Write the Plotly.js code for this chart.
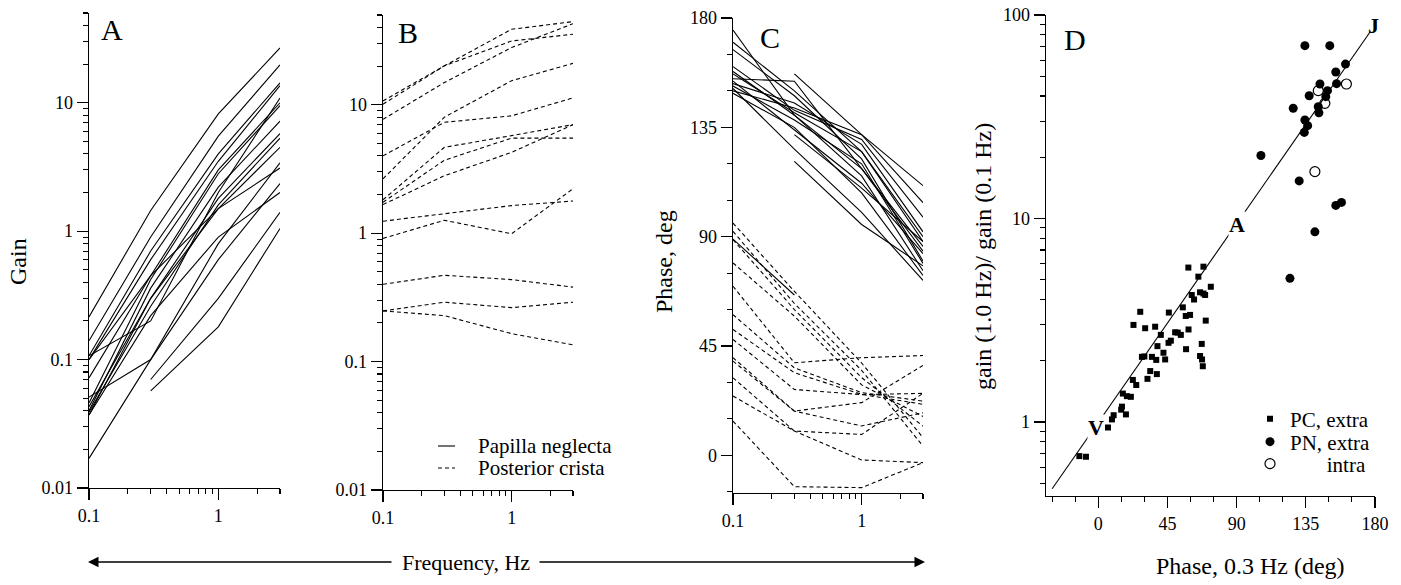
<!DOCTYPE html>
<html><head><meta charset="utf-8">
<script src="https://cdn.plot.ly/plotly-3.0.1.min.js"></script>
<style>html,body{margin:0;padding:0;background:#fff}#chart{width:1401px;height:585px}</style>
</head><body><div id="chart"></div>
<script>
// ---------- DATA ----------
const freqs = [0.1, 0.3, 1, 3];

// Panel A: gain, Papilla neglecta (solid)
const gainPN = [
  [0.215, 1.45, 8.2, 26.7],
  [0.14, 0.9, 5.5, 19.7],
  [0.107, 0.7, 4.0, 14.3],
  [0.10, 0.6, 3.5, 13.6],
  [0.107, 0.2, 2.0, 10.9],
  [0.072, 0.45, 3.0, 10.0],
  [0.046, 0.42, 2.8, 9.5],
  [0.040, 0.36, 2.2, 7.2],
  [0.037, 0.30, 1.8, 5.75],
  [0.039, 0.26, 1.6, 5.3],
  [0.043, 0.30, 1.5, 4.5],
  [0.051, 0.10, 0.8, 3.4],
  [0.10, 0.45, 1.5, 3.1],
  [0.017, 0.10, 0.6, 2.35],
  [0.037, 0.22, 0.9, 2.0],
  [null, 0.07, 0.3, 1.4],
  [null, 0.057, 0.18, 1.05]
];

// Panel B: gain, Posterior crista (dashed)
const gainPC = [
  [10.7, 20.1, 38.7, 44.4],
  [10.1, 20.1, 31.4, 35.4],
  [7.7, 14.9, 27.9, 42.8],
  [4.0, 7.3, 8.2, 11.3],
  [2.65, 8.0, 15.4, 21.0],
  [1.82, 4.66, 5.75, 7.0],
  [1.74, 3.7, 5.5, 5.5],
  [1.67, 2.8, 4.26, 7.0],
  [1.24, 1.41, 1.64, 1.78],
  [0.91, 1.26, 0.99, 2.22],
  [0.40, 0.47, 0.435, 0.38],
  [0.248, 0.29, 0.263, 0.29],
  [0.248, 0.228, 0.165, 0.135]
];

// Panel C: phase, Papilla neglecta (solid)
const phasePN = [
  [175, 140, 118, 84],
  [170, 150, 125, 90],
  [167, 148, 122, 80],
  [158, 140, 115, 76],
  [157, 141, 125, 88],
  [155, 154, 118, 86],
  [154, 134, 112, 83],
  [151, 126, 100, 72],
  [150, 143, 132, 104],
  [152, 138, 120, 79],
  [160, 142, 130, 98],
  [153, 145, 128, 92],
  [149, 135, 108, 74],
  [null, 157, 132, 111],
  [null, 132, 110, 88],
  [null, 121, 95, 78],
  [89, 66, null, null]
];

// Panel C: phase, Posterior crista (dashed)
const phasePC = [
  [95.6, 67.5, 38, 7.3],
  [92.2, 62.5, 35, 3.8],
  [88.8, 60, 32, 12],
  [79.2, 57.3, 29, 16.0],
  [69.6, 38.1, 40.2, 41.1],
  [57.9, 36, 25.8, 22.3],
  [51.8, 34.0, 25.1, 21],
  [47.7, 27.1, 25, 25.5],
  [40.2, 18.2, 21.7, 37.0],
  [38.8, 18.2, 12.1, 17.5],
  [31.9, 10.0, 8.6, 25.5],
  [24.4, 10.0, -1.9, -3.0],
  [14.1, -12.9, -13.3, -3.0]
];

// Panel D: phase at 0.3 Hz vs gain ratio
const pcPhase = [-12.3, -8, 6.3, 8.9, 10, 14.9, 16, 18.6, 21.2, 18, 15.4, 22.5, 24.7, 22.9, 27.3, 30.5, 37, 28.4, 30, 32, 33.8, 38.1, 34.9, 37.7, 38.5, 40.7, 42.4, 43.5, 45.7, 47.2, 45.9, 50, 51.7, 53.7, 58.7, 55, 56.9, 59.7, 57.1, 60.8, 62.3, 66.2, 69.5, 73.2, 69.9, 67.3, 66.2, 67.5, 68, 58.6, 68.4, 65.1, 68.4];
const pcRatio = [0.68, 0.675, 0.94, 1.03, 1.08, 1.15, 1.38, 1.34, 1.33, 1.09, 1.19, 1.61, 1.52, 3.0, 3.48, 2.89, 2.94, 2.09, 2.1, 1.63, 1.78, 1.72, 2.09, 2.02, 2.36, 2.68, 2.19, 2.03, 2.45, 2.51, 3.45, 2.76, 2.75, 2.68, 2.85, 3.66, 3.32, 3.36, 2.28, 4.21, 4.0, 4.34, 4.21, 4.62, 3.15, 2.42, 2.11, 2.03, 1.88, 5.74, 5.8, 5.18, 4.28];
const pnPhase = [134.4, 150.6, 160.8, 154.5, 144.2, 155, 149.1, 137.2, 148, 143.1, 143.5, 126.8, 134.4, 136.2, 134, 105.8, 130.7, 154.5, 158.2, 140.9, 124.7];
const pnRatio = [70.7, 70.7, 57.4, 52.5, 45.8, 46, 42.5, 40.1, 39.7, 35.4, 33.1, 34.8, 30.5, 28.6, 26.5, 20.4, 15.3, 11.6, 12.0, 8.6, 5.08];
const intraPhase = [143.1, 161.4, 147.4, 140.9];
const intraRatio = [42.5, 45.8, 36.8, 17.0];
const fitPhase = [-30, 177];
const fitRatio = [0.47, 83];

// Tick labels
const gainTicks = [0.01, 0.1, 1, 10];
const gainTickText = ['0.01', '0.1', '1', '10'];
const freqTicks = [0.1, 1];
const freqTickText = ['0.1', '1'];
const phaseTicks = [0, 45, 90, 135, 180];
const ratioTicks = [1, 10, 100];

// ---------- HELPERS (layout only) ----------
const W = 1401, H = 585;
const px = v => v / W;
const py = v => 1 - v / H;
const FONT = 'Liberation Serif';
const BLACK = '#000';
const f = (size) => ({family: FONT, size: size, color: BLACK});
function logMinor(lo, hi) {
  const out = [];
  for (let e = lo; e <= hi; e++) for (let m = 2; m <= 9; m++) out.push(m * Math.pow(10, e));
  return out;
}
function axisBase(extra) {
  return Object.assign({
    showline: true, linecolor: BLACK, linewidth: 1.3,
    ticks: 'outside', ticklen: 11, tickwidth: 1.1, tickcolor: BLACK,
    showgrid: false, zeroline: false, mirror: false, fixedrange: true,
    tickfont: f(18)
  }, extra);
}

// ---------- TRACES ----------
const traces = [];
const solid = {color: BLACK, width: 1.1};
const dashed = {color: BLACK, width: 1.1, dash: '4px,3px'};
gainPN.forEach(r => traces.push({x: freqs, y: r, xaxis: 'x', yaxis: 'y', mode: 'lines', line: solid, showlegend: false, hoverinfo: 'skip'}));
gainPC.forEach(r => traces.push({x: freqs, y: r, xaxis: 'x2', yaxis: 'y2', mode: 'lines', line: dashed, showlegend: false, hoverinfo: 'skip'}));
phasePN.forEach(r => traces.push({x: freqs, y: r, xaxis: 'x3', yaxis: 'y3', mode: 'lines', line: solid, showlegend: false, hoverinfo: 'skip'}));
phasePC.forEach(r => traces.push({x: freqs, y: r, xaxis: 'x3', yaxis: 'y3', mode: 'lines', line: dashed, showlegend: false, hoverinfo: 'skip'}));
traces.push({x: fitPhase, y: fitRatio, xaxis: 'x4', yaxis: 'y4', mode: 'lines', line: {color: BLACK, width: 1.1}, showlegend: false, hoverinfo: 'skip'});
traces.push({x: pcPhase, y: pcRatio, xaxis: 'x4', yaxis: 'y4', mode: 'markers', name: 'PC, extra', legend: 'legend2',
  marker: {symbol: 'square', size: 6, color: BLACK}});
traces.push({x: pnPhase, y: pnRatio, xaxis: 'x4', yaxis: 'y4', mode: 'markers', name: 'PN, extra', legend: 'legend3',
  marker: {symbol: 'circle', size: 9, color: BLACK}});
traces.push({x: intraPhase, y: intraRatio, xaxis: 'x4', yaxis: 'y4', mode: 'markers', name: '&nbsp;&nbsp;&nbsp;&nbsp;&nbsp;&nbsp;&nbsp;intra', legend: 'legend4',
  marker: {symbol: 'circle-open', size: 10, color: BLACK, line: {width: 1.2, color: BLACK}}});

// ---------- LAYOUT ----------
const freqMinor = {ticks: 'outside', ticklen: 5, tickcolor: BLACK, tickmode: 'array', tickvals: [0.2,0.3,0.4,0.5,0.6,0.7,0.8,0.9,2,3]};
const gainMinor = {ticks: 'outside', ticklen: 5, tickcolor: BLACK, tickmode: 'array', tickvals: logMinor(-2, 1).filter(v => v <= 50)};
const legendStyle = (y) => ({x: px(1250), xanchor: 'left', y: py(y), yanchor: 'middle', bgcolor: 'rgba(0,0,0,0)', borderwidth: 0,
  font: f(21), itemwidth: 30, tracegroupgap: 0});

const ann = (text, x, y, size, extra) => Object.assign({text: text, xref: 'paper', yref: 'paper', x: px(x), y: py(y),
  xanchor: 'center', yanchor: 'middle', showarrow: false, font: f(size)}, extra || {});

const layout = {
  width: W, height: H,
  margin: {l: 0, r: 0, t: 0, b: 0},
  paper_bgcolor: '#fff', plot_bgcolor: 'rgba(0,0,0,0)',
  font: f(18),
  showlegend: true,
  hovermode: false,
  xaxis: axisBase({type: 'log', range: [-1, Math.log10(3)], domain: [px(89), px(280)], anchor: 'y',
    tickmode: 'array', tickvals: freqTicks, ticktext: freqTickText, minor: freqMinor}),
  yaxis: axisBase({type: 'log', range: [-2, Math.log10(50)], domain: [py(488), py(13)], anchor: 'x',
    tickmode: 'array', tickvals: gainTicks, ticktext: gainTickText, minor: gainMinor}),
  xaxis2: axisBase({type: 'log', range: [-1, Math.log10(3)], domain: [px(383), px(573)], anchor: 'y2',
    tickmode: 'array', tickvals: freqTicks, ticktext: freqTickText, minor: freqMinor}),
  yaxis2: axisBase({type: 'log', range: [-2, Math.log10(50)], domain: [py(490), py(15)], anchor: 'x2',
    tickmode: 'array', tickvals: gainTicks, ticktext: gainTickText, minor: gainMinor}),
  xaxis3: axisBase({type: 'log', range: [-1, Math.log10(3)], domain: [px(733), px(923)], anchor: 'y3',
    tickmode: 'array', tickvals: freqTicks, ticktext: freqTickText, minor: freqMinor}),
  yaxis3: axisBase({range: [-15.5, 180], domain: [py(493), py(18)], anchor: 'x3',
    tickmode: 'array', tickvals: phaseTicks, minor: {ticks: 'outside', ticklen: 5, tickcolor: BLACK, dtick: 15, tick0: 0}}),
  xaxis4: axisBase({range: [-34, 180], domain: [px(1046), px(1375)], anchor: 'y4',
    tickmode: 'array', tickvals: phaseTicks, minor: {ticks: 'outside', ticklen: 5, tickcolor: BLACK, dtick: 15, tick0: 0}}),
  yaxis4: axisBase({type: 'log', range: [Math.log10(0.433), 2], domain: [py(496), py(15)], anchor: 'x4',
    tickmode: 'array', tickvals: ratioTicks, ticktext: ['1', '10', '100'],
    minor: {ticks: 'outside', ticklen: 5, tickcolor: BLACK, tickmode: 'array', tickvals: logMinor(-1, 1).filter(v => v >= 0.45 && v < 100)}}),
  legend2: legendStyle(419),
  legend3: legendStyle(442),
  legend4: legendStyle(464),
  shapes: [
    {type: 'line', xref: 'paper', yref: 'paper', x0: px(438), x1: px(455), y0: py(446), y1: py(446), line: {color: BLACK, width: 1.1}},
    {type: 'line', xref: 'paper', yref: 'paper', x0: px(438), x1: px(455), y0: py(468), y1: py(468), line: {color: BLACK, width: 1.1, dash: '4px,3px'}}
  ],
  annotations: [
    ann('A', 99, 29, 30, {xanchor: 'left'}),
    ann('B', 396, 32, 30, {xanchor: 'left'}),
    ann('C', 758, 37, 30, {xanchor: 'left'}),
    ann('D', 1062, 40, 30, {xanchor: 'left'}),
    ann('Gain', 18, 262, 24, {textangle: -90}),
    ann('Phase, deg', 664, 262, 24, {textangle: -90}),
    ann('gain (1.0 Hz)/ gain (0.1 Hz)', 983, 257, 24, {textangle: -90}),
    ann('Frequency, Hz', 466, 562, 22),
    ann('Phase, 0.3 Hz (deg)', 1250, 566, 24),
    {text: '', xref: 'paper', yref: 'paper', x: px(88), y: py(562), ax: 305, ay: 0, showarrow: true, arrowhead: 2, arrowsize: 1.4, arrowwidth: 1.5, arrowcolor: BLACK},
    {text: '', xref: 'paper', yref: 'paper', x: px(925), y: py(562), ax: -387, ay: 0, showarrow: true, arrowhead: 2, arrowsize: 1.4, arrowwidth: 1.5, arrowcolor: BLACK},
    ann('Papilla neglecta', 476, 446, 21, {xanchor: 'left'}),
    ann('Posterior crista', 476, 468, 21, {xanchor: 'left'}),
    {text: '<b>V</b>', xref: 'x4', yref: 'y4', x: -1.3, y: Math.log10(0.935), showarrow: false, bgcolor: '#fff', borderpad: 0, font: f(22)},
    {text: '<b>A</b>', xref: 'x4', yref: 'y4', x: 90.3, y: Math.log10(9.3), showarrow: false, bgcolor: '#fff', borderpad: 0, font: f(22)},
    {text: '<b>J</b>', xref: 'x4', yref: 'y4', x: 179.2, y: Math.log10(89), showarrow: false, font: f(22)}
  ]
};

Plotly.newPlot('chart', traces, layout, {staticPlot: true, displayModeBar: false});
</script>
</body></html>
